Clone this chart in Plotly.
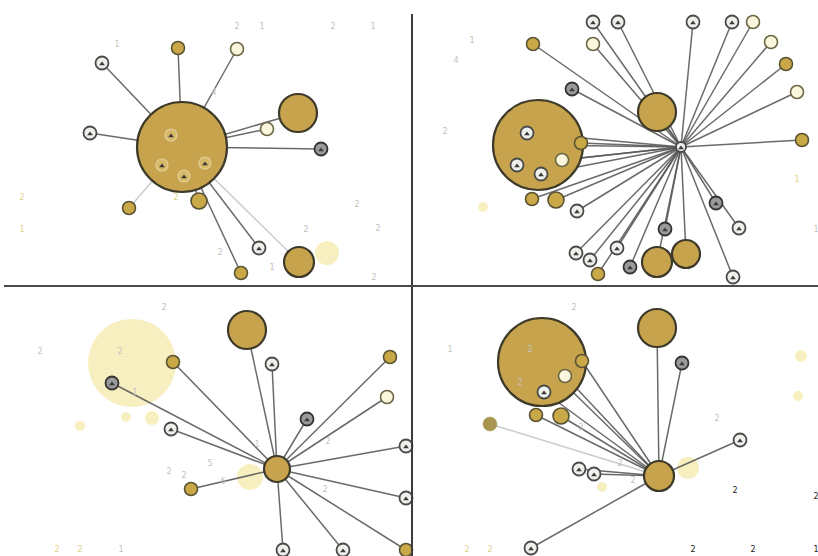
import plotly.graph_objects as go

# ---------------- data: four ego-network panels (node centre, radius, kind, link to hub) -------------
# index 0 of every panel is the hub; link: 0 = none, 1 = solid edge to hub, 2 = faint edge to hub
q1_x    = [182, 102, 178, 237,  90, 267, 298, 321, 129, 199, 259, 241, 299, 327, 205, 171, 162, 184]
q1_y    = [147,  63,  48,  49, 133, 129, 113, 149, 208, 201, 248, 273, 262, 253, 163, 135, 165, 176]
q1_r    = [ 45, 6.5, 6.5, 6.5, 6.5, 6.5,  19, 6.5, 6.5,   8, 6.5, 6.5,  15,  12,   6,   6,   6,   6]
q1_kind = ["big", "gray", "gold", "pale", "gray", "pale", "big", "dark", "gold", "gold",
           "gray", "gold", "big", "faint", "ghost", "ghost", "ghost", "ghost"]
q1_link = [0, 1, 1, 1, 1, 1, 1, 1, 2, 1, 1, 1, 2, 0, 0, 0, 0, 0]

q2_x    = [681, 593, 618, 693, 732, 753, 533, 593, 771, 786, 797, 802, 572, 657, 538, 581,
           527, 517, 541, 562, 532, 556, 577, 576, 590, 617, 598, 630, 665, 657, 686, 716,
           739, 733, 483]
q2_y    = [147,  22,  22,  22,  22,  22,  44,  44,  42,  64,  92, 140,  89, 112, 145, 143,
           133, 165, 174, 160, 199, 200, 211, 253, 260, 248, 274, 267, 229, 262, 254, 203,
           228, 277, 207]
q2_r    = [5, 6.5, 6.5, 6.5, 6.5, 6.5, 6.5, 6.5, 6.5, 6.5, 6.5, 6.5, 6.5, 19, 45, 6.5,
           6.5, 6.5, 6.5, 6.5, 6.5, 8, 6.5, 6.5, 6.5, 6.5, 6.5, 6.5, 6.5, 15, 14, 6.5,
           6.5, 6.5, 5]
q2_kind = ["gray", "gray", "gray", "gray", "gray", "pale", "gold", "pale", "pale", "gold",
           "pale", "gold", "dark", "big", "big", "gold", "gray", "gray", "gray", "pale",
           "gold", "gold", "gray", "gray", "gray", "gray", "gold", "dark", "dark", "big",
           "big", "dark", "gray", "gray", "faint"]
q2_link = [0] + [1] * 33 + [0]

q3_x    = [277, 247, 272, 173, 112, 171, 191, 307, 390, 387, 406, 406, 406, 283, 343,
           132, 250,  80, 126, 152]
q3_y    = [469, 330, 364, 362, 383, 429, 489, 419, 357, 397, 446, 498, 550, 550, 550,
           363, 477, 426, 417, 418]
q3_r    = [13, 19, 6.5, 6.5, 6.5, 6.5, 6.5, 6.5, 6.5, 6.5, 6.5, 6.5, 6.5, 6.5, 6.5,
           44, 13, 5, 5, 7]
q3_kind = ["big", "big", "gray", "gold", "dark", "gray", "gold", "dark", "gold", "pale",
           "gray", "gray", "gold", "gray", "gray", "faint", "faint", "faint", "faint", "faint"]
q3_link = [0, 1, 1, 1, 1, 1, 1, 1, 1, 1, 1, 1, 1, 1, 1, 0, 0, 0, 0, 0]

q4_x    = [659, 657, 682, 740, 542, 582, 565, 544, 536, 561, 490, 579, 594, 531,
           688, 602, 801, 798]
q4_y    = [476, 328, 363, 440, 362, 361, 376, 392, 415, 416, 424, 469, 474, 548,
           468, 487, 356, 396]
q4_r    = [15, 19, 6.5, 6.5, 44, 6.5, 6.5, 6.5, 6.5, 8, 7, 6.5, 6.5, 6.5,
           11, 5, 6, 5]
q4_kind = ["big", "big", "dark", "gray", "big", "gold", "pale", "gray", "gold", "gold",
           "olive", "gray", "gray", "gray", "faint", "faint", "faint", "faint"]
q4_link = [0, 1, 1, 1, 1, 1, 1, 1, 1, 1, 2, 1, 1, 1, 0, 0, 0, 0]

# faint member-count labels scattered through the panels
lab_x = [237, 262, 333, 373, 117, 214, 22, 22, 357, 306, 378, 220, 272, 374, 176,
         472, 456, 445, 797, 816,
         164, 40, 120, 135, 210, 169, 184, 223, 325, 328, 257, 57, 80, 121,
         574, 450, 530, 520, 717, 620, 633, 581, 467, 490]
lab_y = [27, 27, 27, 27, 45, 93, 198, 230, 205, 230, 229, 253, 268, 278, 198,
         41, 61, 132, 180, 230,
         308, 352, 352, 393, 464, 472, 476, 482, 490, 442, 445, 550, 550, 550,
         308, 350, 350, 383, 419, 464, 481, 428, 550, 550]
lab_t = ["2", "1", "2", "1", "1", "4", "2", "1", "2", "2", "2", "2", "1", "2", "2",
         "1", "4", "2", "1", "1",
         "2", "2", "2", "1", "5", "2", "2", "6", "2", "2", "1", "2", "2", "1",
         "2", "1", "2", "2", "2", "2", "2", "2", "2", "2"]
lab_tone = ["g"] * 6 + ["y", "y"] + ["g"] * 6 + ["y"] + ["g"] * 3 + ["y", "g"] + ["g"] * 11 + \
           ["y", "y", "g"] + ["g"] * 8 + ["y", "y"]

dark_x = [735, 693, 753, 816, 816]
dark_y = [491, 550, 550, 497, 550]
dark_t = ["2", "2", "2", "2", "1"]

# ---------------- styles ----------------
GOLD = "#C8A34D"
EDGE = "rgba(90,90,90,0.9)"
EDGE_FAINT = "rgba(150,160,165,0.55)"
STYLE = {
    "big":   dict(fill=GOLD, line="#3d3a2a", lw=2.2),
    "gold":  dict(fill="#C9A847", line="#5a5232", lw=1.6),
    "olive": dict(fill="#A89550", line="#A89550", lw=0.5),
    "gray":  dict(fill="#EFEFEC", line="#4a4a4a", lw=1.8),
    "dark":  dict(fill="#9a9a9a", line="#333333", lw=1.8),
    "pale":  dict(fill="#FAF7DD", line="#6b6644", lw=1.6),
    "faint": dict(fill="rgba(242,226,140,0.55)", line="rgba(242,226,140,0.0)", lw=0),
    "ghost": dict(fill="#D6B867", line="#E2CF98", lw=1.2),
}

panels = [
    (q1_x, q1_y, q1_r, q1_kind, q1_link),
    (q2_x, q2_y, q2_r, q2_kind, q2_link),
    (q3_x, q3_y, q3_r, q3_kind, q3_link),
    (q4_x, q4_y, q4_r, q4_kind, q4_link),
]

fig = go.Figure()


def add_nodes(xs, ys, rs, kinds, wanted):
    for k in wanted:
        idx = [i for i, kk in enumerate(kinds) if kk == k]
        if not idx:
            continue
        idx.sort(key=lambda i: -rs[i])
        st = STYLE[k]
        fig.add_trace(go.Scatter(
            x=[xs[i] for i in idx], y=[ys[i] for i in idx], mode="markers",
            hoverinfo="skip",
            marker=dict(size=[2 * rs[i] for i in idx], sizemode="diameter",
                        color=st["fill"], opacity=1,
                        line=dict(color=st["line"], width=st["lw"])),
        ))


# 1. faint background circles
for xs, ys, rs, kinds, links in panels:
    add_nodes(xs, ys, rs, kinds, ["faint"])

# 2. edges from each hub
for xs, ys, rs, kinds, links in panels:
    for style_id, col, w in [(2, EDGE_FAINT, 1.4), (1, EDGE, 1.5)]:
        ex, ey = [], []
        for x, y, l in zip(xs, ys, links):
            if l == style_id:
                ex += [xs[0], x, None]
                ey += [ys[0], y, None]
        if ex:
            fig.add_trace(go.Scatter(x=ex, y=ey, mode="lines", hoverinfo="skip",
                                     line=dict(color=col, width=w)))

# 3. big circles, then small nodes on top
for xs, ys, rs, kinds, links in panels:
    add_nodes(xs, ys, rs, kinds, ["big"])
for xs, ys, rs, kinds, links in panels:
    add_nodes(xs, ys, rs, kinds, ["ghost", "gold", "olive", "gray", "dark", "pale"])

# 4. tiny person glyphs inside the grey nodes
gx, gy = [], []
for xs, ys, rs, kinds, links in panels:
    for x, y, r, k in zip(xs, ys, rs, kinds):
        if k in ("gray", "dark", "ghost") and r < 7:
            gx.append(x)
            gy.append(y + 1)
fig.add_trace(go.Scatter(x=gx, y=gy, mode="markers", hoverinfo="skip",
                         marker=dict(size=5, symbol="triangle-up", color="#3a3a3a", opacity=1)))

# 5. faint labels
fig.add_trace(go.Scatter(
    x=lab_x, y=lab_y, text=lab_t, mode="text", hoverinfo="skip",
    textfont=dict(size=8, family="DejaVu Sans",
                  color=["#c2c2bd" if t == "g" else "#ddd386" for t in lab_tone]),
))
fig.add_trace(go.Scatter(
    x=dark_x, y=dark_y, text=dark_t, mode="text", hoverinfo="skip",
    textfont=dict(size=8, family="DejaVu Sans", color="#222222"),
))

# 6. panel dividers
fig.add_shape(type="line", x0=412, x1=412, y0=14, y1=556, line=dict(color="#3c3c3c", width=2))
fig.add_shape(type="line", x0=4, x1=818, y0=286, y1=286, line=dict(color="#4a4a4a", width=2))

fig.update_layout(
    width=818, height=556, margin=dict(l=0, r=0, t=0, b=0),
    showlegend=False, plot_bgcolor="white", paper_bgcolor="white",
    xaxis=dict(range=[0, 818], visible=False, fixedrange=True),
    yaxis=dict(range=[556, 0], visible=False, fixedrange=True),
)

fig.write_html("out.html")
